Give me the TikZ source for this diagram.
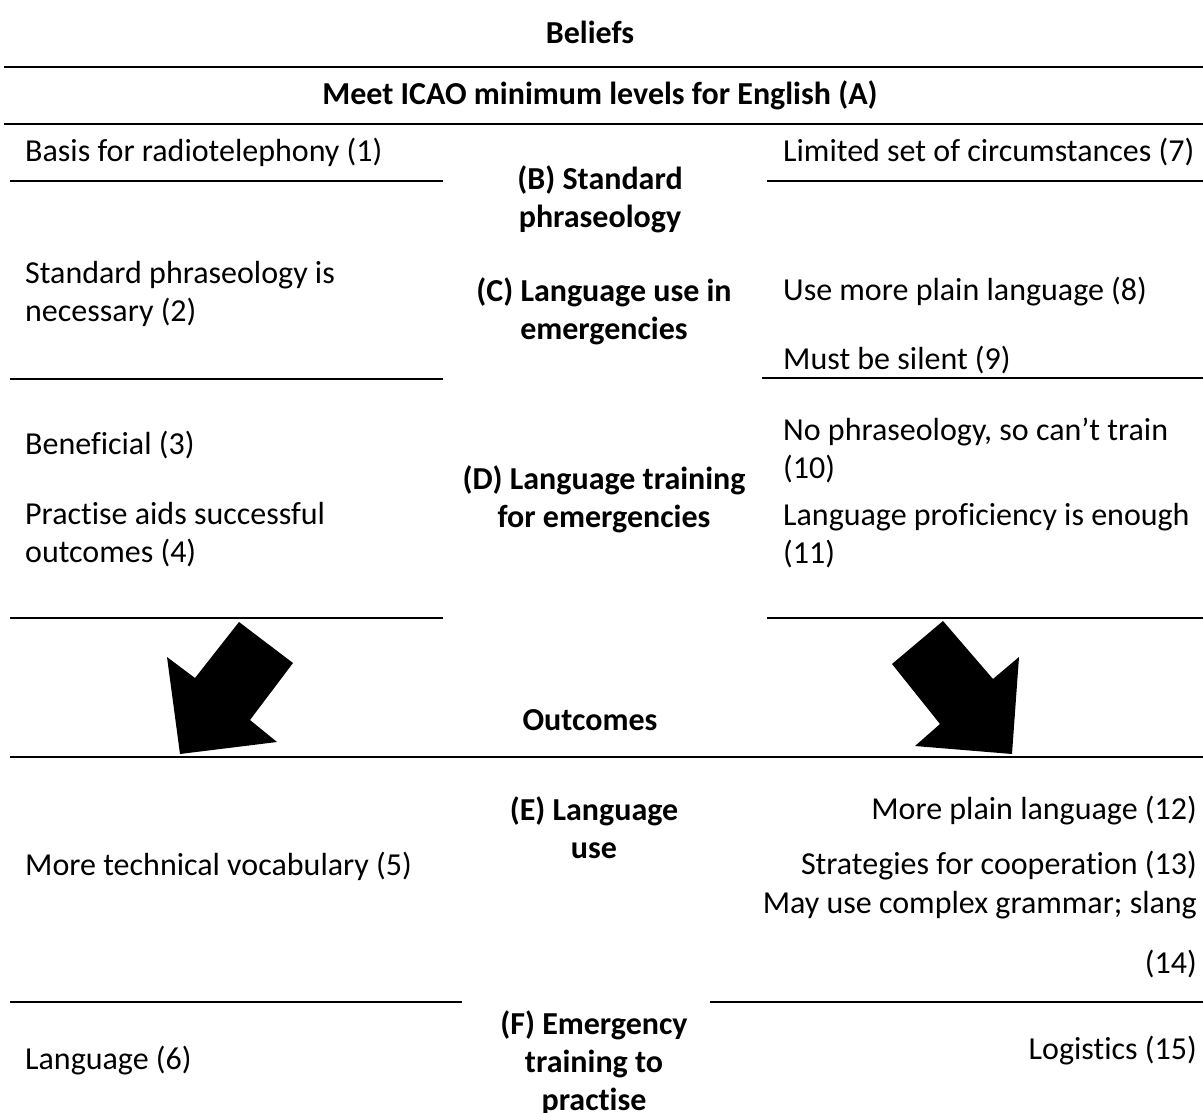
\documentclass[tikz,border=0pt]{standalone}
\usepackage{fontspec}
\setmainfont{Carlito}[Ligatures=NoCommon]
\tikzset{
	x=1pt, y=-1pt,
	every node/.style = {
		inner sep=0pt,
		font=\fontsize{32}{38}\selectfont
	},
	belief/.style = {anchor=west, align=left},
	outcome/.style = {anchor=east, align=right},
	theme/.style = {align=center, font=\fontsize{32}{38}\selectfont\bfseries},
	rule/.style = {line width=2.8pt},
	bigarrow/.style = {fill=black}
}

\begin{document}
\begin{tikzpicture}
	\useasboundingbox (0,0) rectangle (1203,1113);

	% headings
	\node[theme] (beliefs) at (590,32) {Beliefs};
	\node[theme] (icao) at (600,95) {Meet ICAO minimum levels for English (A)};
	\node[theme] (outcomes) at (590,720) {Outcomes};

	% themes in the middle column
	\node[theme] (thB) at (600,199) {(B) Standard\\phraseology};
	\node[theme] (thC) at (604,311) {(C) Language use in\\emergencies};
	\node[theme] (thD) at (604,499) {(D) Language training\\for emergencies};
	\node[theme] (thE) at (594,828) {(E) Language\\use};
	\node[theme] (thF) at (594,1063) {(F) Emergency\\training to\\practise};

	% left column
	\node[belief] (b1) at (25,152) {Basis for radiotelephony (1)};
	\node[belief] (b2) at (25,294) {Standard phraseology is\\necessary (2)};
	\node[belief] (b3) at (25,445) {Beneficial (3)};
	\node[belief] (b4) at (25,535) {Practise aids successful\\outcomes (4)};
	\node[belief] (o5) at (25,866) {More technical vocabulary (5)};
	\node[belief] (o6) at (25,1061) {Language (6)};

	% right column
	\node[belief] (b7) at (783,152) {Limited set of circumstances (7)};
	\node[belief] (b8) at (783,292) {Use more plain language (8)};
	\node[belief] (b9) at (783,360) {Must be silent (9)};
	\node[belief] (b10) at (783,450) {No phraseology, so can’t train\\(10)};
	\node[belief] (b11) at (783,536) {Language proficiency is enough\\(11)};
	\node[outcome] (o12) at (1197,811) {More plain language (12)};
	\node[outcome] (o13) at (1197,866) {Strategies for cooperation (13)};
	\node[outcome] (o14) at (1197,905) {May use complex grammar; slang};
	\node[outcome] (o14b) at (1197,964) {(14)};
	\node[outcome] (o15) at (1197,1051) {Logistics (15)};

	% rules
	\draw[rule] (4,67) -- (1203,67);
	\draw[rule] (4,124) -- (1203,124);
	\draw[rule] (10,181) -- (443,181);
	\draw[rule] (767,181) -- (1203,181);
	\draw[rule] (10,379) -- (443,379);
	\draw[rule] (762,378) -- (1203,378);
	\draw[rule] (10,618) -- (443,618);
	\draw[rule] (767,618) -- (1203,618);
	\draw[rule] (10,757) -- (1203,757);
	\draw[rule] (10,1002) -- (462,1002);
	\draw[rule] (710,1002) -- (1203,1002);

	% block arrows
	\fill[bigarrow] (239,622) -- (293,663) -- (250,720) -- (277,742)
		-- (180,754) -- (167,657) -- (195,678) -- cycle;
	\fill[bigarrow] (943,621) -- (892,664) -- (940,724) -- (915,746)
		-- (1012,754) -- (1019,657) -- (993,679) -- cycle;
\end{tikzpicture}
\end{document}
